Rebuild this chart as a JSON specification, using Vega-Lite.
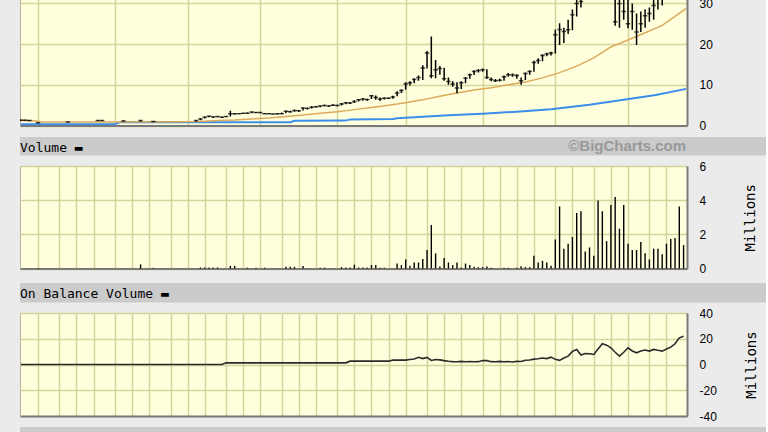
{
  "$schema": "https://vega.github.io/schema/vega-lite/v6.json",
  "background": "#ebebeb",
  "padding": {"left": 17, "top": -22, "right": 0, "bottom": 0},
  "spacing": 3,
  "config": {
    "view": {"fill": "#ffffdd", "stroke": "#b4b4a0", "strokeWidth": 1},
    "axis": {
      "gridColor": "#d3d39c", "gridWidth": 1.5, "gridOpacity": 1,
      "labelFont": "Liberation Sans", "labelFontSize": 12, "labelColor": "#000000",
      "titleFont": "DejaVu Sans Mono", "titleFontWeight": "normal", "titleFontSize": 14, "titleColor": "#000000",
      "domainColor": "#7a7a7a", "domainWidth": 2
    }
  },
  "datasets": {
    "price": [
      {"w":0,"lo":1.2,"hi":1.45,"c":1.3},{"w":1,"lo":1.2,"hi":1.4,"c":1.3},{"w":2,"lo":1.1,"hi":1.35,"c":1.2},
      {"w":4,"lo":0.6,"hi":0.8,"c":0.7},{"w":11,"lo":0.8,"hi":0.9,"c":0.85},{"w":18,"lo":1.1,"hi":1.35,"c":1.25},
      {"w":19,"lo":1.1,"hi":1.3,"c":1.2},{"w":24,"lo":1.0,"hi":1.2,"c":1.1},{"w":28,"lo":1.0,"hi":1.3,"c":1.2},
      {"w":31,"lo":0.9,"hi":1.1,"c":1.0},
      {"w":41,"lo":1.0,"hi":1.3,"c":1.2},{"w":42,"lo":1.3,"hi":1.8,"c":1.6},{"w":43,"lo":1.7,"hi":2.2,"c":2.0},
      {"w":44,"lo":2.0,"hi":2.4,"c":2.3},{"w":45,"lo":1.9,"hi":2.3,"c":2.1},{"w":46,"lo":2.0,"hi":2.3,"c":2.2},
      {"w":47,"lo":1.9,"hi":2.2,"c":2.0},{"w":48,"lo":2.0,"hi":2.3,"c":2.2},{"w":49,"lo":2.2,"hi":3.6,"c":2.9},
      {"w":50,"lo":2.7,"hi":3.0,"c":2.9},{"w":51,"lo":2.8,"hi":3.0,"c":2.9},{"w":52,"lo":2.8,"hi":3.1,"c":3.0},
      {"w":53,"lo":2.9,"hi":3.2,"c":3.0},{"w":54,"lo":3.0,"hi":3.4,"c":3.3},{"w":55,"lo":3.1,"hi":3.3,"c":3.2},
      {"w":56,"lo":3.0,"hi":3.3,"c":3.2},{"w":57,"lo":2.8,"hi":3.1,"c":2.9},{"w":58,"lo":2.8,"hi":3.0,"c":2.9},
      {"w":59,"lo":2.7,"hi":2.9,"c":2.8},{"w":60,"lo":2.7,"hi":3.0,"c":2.9},{"w":61,"lo":2.8,"hi":3.2,"c":2.9},
      {"w":62,"lo":3.0,"hi":3.6,"c":3.5},{"w":63,"lo":3.2,"hi":3.6,"c":3.4},{"w":64,"lo":3.4,"hi":3.9,"c":3.7},
      {"w":65,"lo":3.4,"hi":3.8,"c":3.6},{"w":66,"lo":3.7,"hi":4.4,"c":4.3},{"w":67,"lo":4.0,"hi":4.4,"c":4.2},
      {"w":68,"lo":4.2,"hi":4.7,"c":4.5},{"w":69,"lo":4.4,"hi":4.8,"c":4.6},{"w":70,"lo":4.5,"hi":4.9,"c":4.8},
      {"w":71,"lo":4.7,"hi":5.1,"c":4.9},{"w":72,"lo":4.6,"hi":5.0,"c":4.8},{"w":73,"lo":4.8,"hi":5.2,"c":5.0},
      {"w":74,"lo":4.7,"hi":5.1,"c":4.9},{"w":75,"lo":4.9,"hi":5.5,"c":5.3},{"w":76,"lo":5.2,"hi":5.8,"c":5.6},
      {"w":77,"lo":5.3,"hi":5.8,"c":5.5},{"w":78,"lo":5.5,"hi":6.2,"c":5.9},{"w":79,"lo":5.9,"hi":6.5,"c":6.3},
      {"w":80,"lo":6.1,"hi":6.7,"c":6.5},{"w":81,"lo":6.1,"hi":6.6,"c":6.4},{"w":82,"lo":6.5,"hi":7.5,"c":7.3},
      {"w":83,"lo":6.3,"hi":7.4,"c":6.9},{"w":84,"lo":6.0,"hi":6.9,"c":6.5},{"w":85,"lo":6.4,"hi":6.9,"c":6.7},
      {"w":86,"lo":6.5,"hi":6.9,"c":6.7},{"w":87,"lo":6.6,"hi":7.3,"c":7.0},{"w":88,"lo":7.2,"hi":8.4,"c":8.0},
      {"w":89,"lo":8.0,"hi":8.9,"c":8.6},{"w":90,"lo":8.8,"hi":10.6,"c":10.2},{"w":91,"lo":9.8,"hi":10.9,"c":10.5},
      {"w":92,"lo":10.4,"hi":11.6,"c":11.3},{"w":93,"lo":11.0,"hi":12.3,"c":11.8},{"w":94,"lo":11.2,"hi":14.8,"c":14.1},
      {"w":95,"lo":14.0,"hi":18.3,"c":17.8},{"w":96,"lo":11.6,"hi":21.9,"c":12.2},{"w":97,"lo":11.6,"hi":16.1,"c":13.7},
      {"w":98,"lo":12.5,"hi":14.6,"c":14.0},{"w":99,"lo":11.0,"hi":14.2,"c":11.5},{"w":100,"lo":10.0,"hi":11.8,"c":10.8},
      {"w":101,"lo":9.5,"hi":10.9,"c":10.2},{"w":102,"lo":7.9,"hi":10.6,"c":9.2},{"w":103,"lo":9.0,"hi":10.9,"c":10.5},
      {"w":104,"lo":10.4,"hi":11.9,"c":11.6},{"w":105,"lo":11.5,"hi":12.8,"c":12.5},{"w":106,"lo":12.4,"hi":13.6,"c":13.3},
      {"w":107,"lo":13.0,"hi":13.8,"c":13.5},{"w":108,"lo":13.2,"hi":14.0,"c":13.7},{"w":109,"lo":11.5,"hi":13.8,"c":11.8},
      {"w":110,"lo":10.9,"hi":11.8,"c":11.3},{"w":111,"lo":10.7,"hi":11.4,"c":11.0},{"w":112,"lo":10.8,"hi":11.5,"c":11.1},
      {"w":113,"lo":11.0,"hi":12.3,"c":12.0},{"w":114,"lo":12.0,"hi":12.9,"c":12.5},{"w":115,"lo":12.0,"hi":12.8,"c":12.4},
      {"w":116,"lo":11.5,"hi":12.6,"c":12.3},{"w":117,"lo":10.0,"hi":11.8,"c":11.0},{"w":118,"lo":11.2,"hi":13.0,"c":12.8},
      {"w":119,"lo":12.5,"hi":13.6,"c":13.3},{"w":120,"lo":13.2,"hi":15.9,"c":15.5},{"w":121,"lo":15.2,"hi":16.5,"c":16.0},
      {"w":122,"lo":15.8,"hi":17.5,"c":17.2},{"w":123,"lo":17.0,"hi":17.9,"c":17.6},{"w":124,"lo":17.2,"hi":18.1,"c":17.8},
      {"w":125,"lo":17.7,"hi":23.6,"c":22.3},{"w":126,"lo":19.8,"hi":25.1,"c":23.6},{"w":127,"lo":20.3,"hi":24.0,"c":23.1},
      {"w":128,"lo":22.5,"hi":26.0,"c":23.5},{"w":129,"lo":23.4,"hi":28.5,"c":27.2},{"w":130,"lo":26.8,"hi":31.5,"c":30.0},
      {"w":131,"lo":29.0,"hi":32.5,"c":30.5},{"w":132,"lo":31.5,"hi":35.0,"c":33.5},{"w":133,"lo":32.0,"hi":35.5,"c":34.0},
      {"w":134,"lo":31.2,"hi":34.5,"c":32.5},{"w":135,"lo":32.0,"hi":36.5,"c":34.5},{"w":136,"lo":33.0,"hi":37.5,"c":35.5},
      {"w":137,"lo":32.0,"hi":36.0,"c":33.5},{"w":138,"lo":31.2,"hi":34.5,"c":32.0},{"w":139,"lo":24.5,"hi":33.5,"c":25.5},
      {"w":140,"lo":24.0,"hi":32.0,"c":30.0},{"w":141,"lo":26.0,"hi":31.5,"c":28.0},{"w":142,"lo":23.9,"hi":31.2,"c":25.0},
      {"w":143,"lo":23.5,"hi":30.0,"c":28.0},{"w":144,"lo":19.8,"hi":27.5,"c":23.0},{"w":145,"lo":23.0,"hi":28.0,"c":25.0},
      {"w":146,"lo":24.0,"hi":28.5,"c":27.0},{"w":147,"lo":25.5,"hi":29.0,"c":27.5},{"w":148,"lo":26.0,"hi":31.0,"c":29.5},
      {"w":149,"lo":28.5,"hi":32.5,"c":31.0},{"w":150,"lo":29.5,"hi":33.5,"c":31.5},{"w":151,"lo":31.5,"hi":34.5,"c":33.0},
      {"w":152,"lo":31.8,"hi":35.0,"c":33.5},{"w":153,"lo":32.0,"hi":35.5,"c":34.0},{"w":154,"lo":32.5,"hi":36.0,"c":34.5},
      {"w":155,"lo":33.0,"hi":36.5,"c":35.0}
    ],
    "ma50": [
      {"w":0,"v":1.2},{"w":3,"v":1.15},{"w":5,"v":0.85},{"w":20,"v":0.85},{"w":38,"v":0.9},{"w":42,"v":1.0},
      {"w":46,"v":1.2},{"w":50,"v":1.35},{"w":54,"v":1.6},{"w":58,"v":1.85},{"w":62,"v":2.2},{"w":66,"v":2.6},
      {"w":70,"v":3.0},{"w":74,"v":3.4},{"w":78,"v":3.9},{"w":82,"v":4.4},{"w":86,"v":5.0},{"w":90,"v":5.6},
      {"w":94,"v":6.3},{"w":98,"v":7.2},{"w":102,"v":8.0},{"w":106,"v":8.7},{"w":110,"v":9.3},{"w":114,"v":10.0},
      {"w":118,"v":10.7},{"w":122,"v":11.7},{"w":126,"v":13.0},{"w":130,"v":14.6},{"w":134,"v":16.6},{"w":138,"v":19.3},
      {"w":142,"v":21.0},{"w":146,"v":22.8},{"w":150,"v":24.6},{"w":153,"v":26.8},{"w":155.6,"v":28.8}
    ],
    "ma200": [
      {"w":0,"v":0.3},{"w":22,"v":0.3},{"w":23,"v":0.8},{"w":63,"v":0.8},{"w":64,"v":1.15},{"w":76,"v":1.2},
      {"w":77,"v":1.5},{"w":87,"v":1.6},{"w":88,"v":1.8},{"w":95,"v":2.2},{"w":100,"v":2.5},{"w":108,"v":2.9},
      {"w":116,"v":3.4},{"w":124,"v":4.0},{"w":133,"v":5.1},{"w":141,"v":6.3},{"w":148.5,"v":7.5},{"w":155.6,"v":9.0}
    ],
    "vol": [
      {"w":4,"v":0.03},{"w":28,"v":0.24},{"w":31,"v":0.04},{"w":42,"v":0.06},{"w":43,"v":0.06},{"w":44,"v":0.06},
      {"w":45,"v":0.06},{"w":46,"v":0.06},{"w":49,"v":0.15},{"w":50,"v":0.15},{"w":53,"v":0.05},{"w":55,"v":0.05},
      {"w":57,"v":0.05},{"w":62,"v":0.1},{"w":63,"v":0.1},{"w":64,"v":0.1},{"w":66,"v":0.15},{"w":70,"v":0.05},
      {"w":71,"v":0.05},{"w":75,"v":0.08},{"w":76,"v":0.06},{"w":77,"v":0.06},{"w":78,"v":0.22},{"w":79,"v":0.06},
      {"w":80,"v":0.06},{"w":81,"v":0.06},{"w":82,"v":0.2},{"w":83,"v":0.2},{"w":84,"v":0.05},{"w":85,"v":0.05},
      {"w":88,"v":0.29},{"w":89,"v":0.2},{"w":90,"v":0.53},{"w":91,"v":0.16},{"w":92,"v":0.35},{"w":93,"v":0.35},
      {"w":94,"v":0.55},{"w":95,"v":1.08},{"w":96,"v":2.55},{"w":97,"v":0.88},{"w":98,"v":0.12},{"w":99,"v":0.61},
      {"w":100,"v":0.35},{"w":101,"v":0.2},{"w":102,"v":0.35},{"w":103,"v":0.06},{"w":104,"v":0.29},{"w":105,"v":0.2},
      {"w":106,"v":0.1},{"w":107,"v":0.08},{"w":108,"v":0.08},{"w":109,"v":0.12},{"w":110,"v":0.04},{"w":113,"v":0.05},
      {"w":114,"v":0.05},{"w":116,"v":0.04},{"w":117,"v":0.13},{"w":118,"v":0.08},{"w":119,"v":0.08},{"w":120,"v":0.75},
      {"w":121,"v":0.35},{"w":122,"v":0.45},{"w":123,"v":0.35},{"w":124,"v":0.16},{"w":125,"v":1.7},{"w":126,"v":3.63},
      {"w":127,"v":1.16},{"w":128,"v":1.45},{"w":129,"v":1.84},{"w":130,"v":3.25},{"w":131,"v":3.35},{"w":132,"v":1.0},
      {"w":133,"v":1.23},{"w":134,"v":0.75},{"w":135,"v":3.98},{"w":136,"v":3.35},{"w":137,"v":1.6},{"w":138,"v":3.72},
      {"w":139,"v":4.18},{"w":140,"v":2.33},{"w":141,"v":3.72},{"w":142,"v":1.45},{"w":143,"v":1.08},{"w":144,"v":1.08},
      {"w":145,"v":1.55},{"w":146,"v":0.9},{"w":147,"v":0.53},{"w":148,"v":1.16},{"w":149,"v":1.16},{"w":150,"v":0.84},
      {"w":151,"v":1.45},{"w":152,"v":1.73},{"w":153,"v":1.78},{"w":154,"v":3.63},{"w":155,"v":1.37}
    ],
    "obv": [
      {"w":0,"v":0},{"w":47,"v":0},{"w":48,"v":1.3},{"w":76,"v":1.3},{"w":77,"v":2.6},{"w":86,"v":2.6},
      {"w":87,"v":3.4},{"w":90,"v":3.4},{"w":91,"v":3.9},{"w":92,"v":4.3},{"w":93,"v":5.6},{"w":94,"v":4.6},
      {"w":95,"v":5.5},{"w":96,"v":3.1},{"w":97,"v":3.9},{"w":98,"v":3.6},{"w":99,"v":3.0},{"w":100,"v":2.5},
      {"w":101,"v":2.2},{"w":102,"v":2.1},{"w":103,"v":2.4},{"w":104,"v":2.1},{"w":105,"v":2.3},{"w":106,"v":2.1},
      {"w":107,"v":2.2},{"w":108,"v":3.1},{"w":109,"v":3.0},{"w":110,"v":2.2},{"w":111,"v":2.1},{"w":112,"v":2.4},
      {"w":113,"v":2.1},{"w":114,"v":2.3},{"w":115,"v":2.0},{"w":116,"v":2.4},{"w":117,"v":2.3},{"w":118,"v":3.3},
      {"w":119,"v":3.5},{"w":120,"v":4.2},{"w":121,"v":4.5},{"w":122,"v":5.0},{"w":123,"v":4.6},{"w":124,"v":5.7},
      {"w":125,"v":4.0},{"w":126,"v":3.2},{"w":127,"v":5.0},{"w":128,"v":6.5},{"w":129,"v":10.2},{"w":130,"v":11.7},
      {"w":131,"v":7.3},{"w":132,"v":8.5},{"w":133,"v":8.3},{"w":134,"v":7.8},{"w":135,"v":12.0},{"w":136,"v":16.1},
      {"w":137,"v":15.0},{"w":138,"v":13.0},{"w":139,"v":9.5},{"w":140,"v":6.5},{"w":141,"v":9.5},{"w":142,"v":13.0},
      {"w":143,"v":10.5},{"w":144,"v":9.1},{"w":145,"v":10.5},{"w":146,"v":11.2},{"w":147,"v":10.4},{"w":148,"v":11.7},
      {"w":149,"v":11.0},{"w":150,"v":10.4},{"w":151,"v":12.0},{"w":152,"v":13.5},{"w":153,"v":16.1},{"w":154,"v":20.7},
      {"w":155,"v":22.0}
    ]
  },
  "vconcat": [
    {
      "width": 667,
      "height": 146.5,
      "layer": [
        {
          "data": {"name": "ma200"},
          "mark": {"type": "line", "color": "#3b8eea", "strokeWidth": 2, "clip": true},
          "encoding": {
            "x": {"field": "w", "type": "quantitative", "scale": {"domain": [-0.2, 155.8], "nice": false, "zero": false},
                  "axis": {"orient": "bottom", "title": null, "values": [4,9,13,17,22,26,30,35,39,43,48,52,56,61,65,69,74,78,82,86,90,95,99,103,108,112,116,120,125,129,134,138,142,147,151],
                           "labels": false, "ticks": true, "tickSize": 8, "tickOpacity": 0, "grid": true, "domain": true}},
            "y": {"field": "v", "type": "quantitative", "scale": {"domain": [0, 36], "nice": false, "zero": false},
                  "axis": {"orient": "right", "title": null, "values": [0,10,20,30], "ticks": false, "tickSize": 0, "labelPadding": 12, "grid": true, "domain": true}}
          }
        },
        {
          "data": {"name": "ma50"},
          "mark": {"type": "line", "color": "#dcaa5c", "strokeWidth": 1.5, "clip": true},
          "encoding": {
            "x": {"field": "w", "type": "quantitative", "title": null},
            "y": {"field": "v", "type": "quantitative", "title": null}
          }
        },
        {
          "data": {"name": "price"},
          "mark": {"type": "rule", "color": "#000000", "strokeWidth": 1.5, "clip": true},
          "encoding": {
            "x": {"field": "w", "type": "quantitative", "title": null},
            "y": {"field": "lo", "type": "quantitative", "title": null},
            "y2": {"field": "hi"}
          }
        },
        {
          "data": {"name": "price"},
          "mark": {"type": "tick", "orient": "horizontal", "size": 4.5, "thickness": 1.5, "color": "#000000", "clip": true},
          "encoding": {
            "x": {"field": "w", "type": "quantitative", "title": null},
            "y": {"field": "c", "type": "quantitative", "title": null}
          }
        }
      ]
    },
    {
      "width": 746,
      "height": 18.5,
      "view": {"fill": "#cbcbcb", "stroke": null},
      "title": {"text": "Volume ▬", "anchor": "start", "frame": "group", "orient": "top", "offset": -24, "baseline": "middle",
                "font": "DejaVu Sans Mono", "fontSize": 13, "fontWeight": "normal", "color": "#000000"},
      "data": {"values": [{"label": "©BigCharts.com"}]},
      "mark": {"type": "text", "x": "width", "dx": -80, "align": "right", "baseline": "middle",
               "font": "Liberation Sans", "fontWeight": "bold", "fontSize": 15, "color": "#999999"},
      "encoding": {"text": {"field": "label"}}
    },
    {
      "width": 667,
      "height": 102.5,
      "data": {"name": "vol"},
      "mark": {"type": "rule", "color": "#000000", "strokeWidth": 1.4},
      "encoding": {
        "x": {"field": "w", "type": "quantitative", "scale": {"domain": [-0.2, 155.8], "nice": false, "zero": false},
              "axis": {"orient": "bottom", "title": null, "values": [4,9,13,17,22,26,30,35,39,43,48,52,56,61,65,69,74,78,82,86,90,95,99,103,108,112,116,120,125,129,134,138,142,147,151],
                       "labels": false, "ticks": true, "tickSize": 11, "tickOpacity": 0, "grid": true, "domain": true}},
        "y": {"field": "v", "type": "quantitative", "scale": {"domain": [0, 6], "nice": false},
              "axis": {"orient": "right", "title": "Millions", "titleAngle": 270, "titlePadding": 52, "values": [0,2,4,6], "ticks": false, "tickSize": 0, "labelPadding": 12, "grid": true, "domain": true}},
        "y2": {"datum": 0}
      }
    },
    {
      "width": 746,
      "height": 19.5,
      "view": {"fill": "#cbcbcb", "stroke": null},
      "title": {"text": "On Balance Volume ▬", "anchor": "start", "frame": "group", "orient": "top", "offset": -24, "baseline": "middle",
                "font": "DejaVu Sans Mono", "fontSize": 13, "fontWeight": "normal", "color": "#000000"},
      "data": {"values": [{"label": ""}]},
      "mark": {"type": "text"},
      "encoding": {"text": {"field": "label"}}
    },
    {
      "width": 667,
      "height": 103,
      "data": {"name": "obv"},
      "mark": {"type": "line", "color": "#2a2a2a", "strokeWidth": 1.6},
      "encoding": {
        "x": {"field": "w", "type": "quantitative", "scale": {"domain": [-0.2, 155.8], "nice": false, "zero": false},
              "axis": {"orient": "bottom", "title": null, "values": [4,9,13,17,22,26,30,35,39,43,48,52,56,61,65,69,74,78,82,86,90,95,99,103,108,112,116,120,125,129,134,138,142,147,151],
                       "labels": false, "ticks": true, "tickSize": 6, "tickOpacity": 0, "grid": true, "domain": true}},
        "y": {"field": "v", "type": "quantitative", "scale": {"domain": [-40, 40], "nice": false},
              "axis": {"orient": "right", "title": "Millions", "titleAngle": 270, "titlePadding": 42, "values": [-40,-20,0,20,40], "labelExpr": "'' + datum.value", "ticks": false, "tickSize": 0, "labelPadding": 12, "grid": true, "domain": true}}
      }
    },
    {
      "width": 746,
      "height": 10,
      "view": {"fill": "#cbcbcb", "stroke": null},
      "data": {"values": [{"label": ""}]},
      "mark": {"type": "text"},
      "encoding": {"text": {"field": "label"}}
    }
  ]
}
